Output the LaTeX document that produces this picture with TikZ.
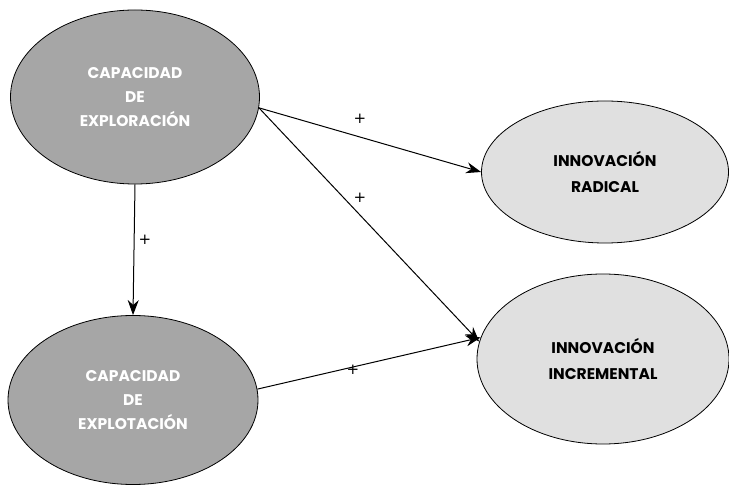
\documentclass[tikz,border=0pt]{standalone}
\usepackage{fontspec}
\setmainfont{Poppins}
\newfontfamily\plusfont{DejaVu Sans}
\usetikzlibrary{arrows.meta,shapes.geometric}
\definecolor{darkfill}{HTML}{A6A6A6}
\definecolor{lightfill}{HTML}{E0E0E0}
\tikzset{
  darkell/.style={ellipse, draw=black, line width=0.8pt, fill=darkfill, text=white, font=\fontsize{15.5}{24}\selectfont\bfseries, align=center, inner sep=0pt},
  lightell/.style={ellipse, draw=black, line width=0.8pt, fill=lightfill, text=black, font=\fontsize{15.5}{26}\selectfont\bfseries, align=center, inner sep=0pt},
  conn/.style={draw, line width=1pt, -{Stealth[length=15pt,width=11pt]}},
  plus/.style={font=\plusfont\fontsize{15}{15}\selectfont, inner sep=0pt}
}
\begin{document}
\begin{tikzpicture}[x=1pt,y=-1pt]
\useasboundingbox (0,0) rectangle (729,486);
\node[darkell, minimum width=249pt, minimum height=174pt] (expl) at (135,97) {CAPACIDAD\\DE\\EXPLORACIÓN};
\node[darkell, minimum width=250pt, minimum height=169pt] (expt) at (133,400) {CAPACIDAD\\DE\\EXPLOTACIÓN};
\node[lightell, minimum width=247pt, minimum height=142pt] (rad) at (605,172) {INNOVACIÓN\\RADICAL};
\node[lightell, minimum width=252pt, minimum height=170pt] (inc) at (603,359) {INNOVACIÓN\\INCREMENTAL};
\draw[conn] (expl.-5) -- (rad.west);
\draw[conn] (expl.-5) -- (inc.172);
\draw[conn] (expl.south) -- (expt.north);
\draw[conn] (expt.5) -- (inc.170);
\node[plus] (p1) at (360,119) {+};
\node[plus] (p2) at (360,198) {+};
\node[plus] (p3) at (145,240) {+};
\node[plus] (p4) at (353,370) {+};
\end{tikzpicture}
\end{document}
